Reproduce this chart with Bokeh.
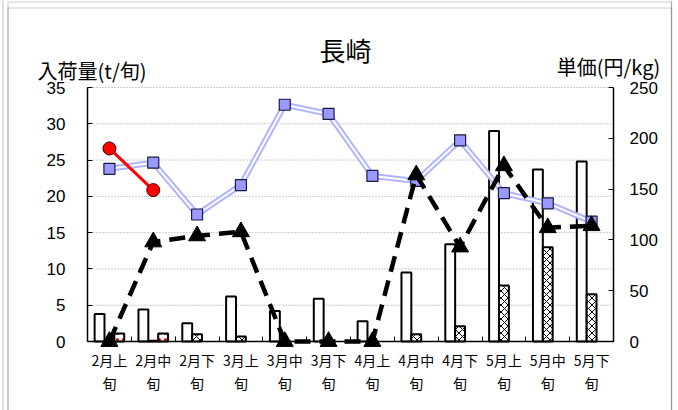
from bokeh.plotting import figure
from bokeh.models import (LinearAxis, Range1d, FixedTicker, BoxAnnotation, Label,
                          CustomJSTickFormatter)
from bokeh.embed import file_html
from bokeh.resources import INLINE

# Ten-day periods (上旬/中旬/下旬) from February to May
periods = ["2月上旬", "2月中旬", "2月下旬", "3月上旬", "3月中旬", "3月下旬",
           "4月上旬", "4月中旬", "4月下旬", "5月上旬", "5月中旬", "5月下旬"]

# Arrivals (t per period)
qty_white = [3.8, 4.4, 2.5, 6.2, 4.2, 5.9, 2.8, 9.5, 13.4, 29.0, 23.7, 24.8]
qty_hatch = [0.1, 0.1, 1.0, 0.7, 0.1, 0.1, 0.1, 1.0, 2.1, 7.7, 13.0, 6.5]
qty_red = [1.1, 1.1]

# Unit prices (yen/kg)
price_blue = [170, 176, 125, 154, 233, 224, 163, 158, 198, 146, 136, 118]
price_black = [0, 98, 104, 108, 0, 0, 0, 164, 93, 173, 112, 114]
price_red = [190, 149]

qty_ticks = [0, 5, 10, 15, 20, 25, 30, 35]
price_ticks = [0, 50, 100, 150, 200, 250]

# Canvas size and where the plotting area sits inside it (pixels)
W, H = 678, 410
AREA_L, AREA_R, AREA_T, AREA_B = 87, 613, 87, 341

n = len(periods)
centers = [i + 0.5 for i in range(n)]
bar_w = 0.225
tick_labels = [p[:-1] + "\n" + p[-1] for p in periods]


def span_range(lo, hi, px_lo, px_hi, px_total, flip=False):
    """Range covering the whole canvas so that lo..hi lands on px_lo..px_hi."""
    per_px = (hi - lo) / (px_hi - px_lo)
    if flip:
        return Range1d(lo - (px_total - px_hi) * per_px, hi + px_lo * per_px)
    return Range1d(lo - px_lo * per_px, hi + (px_total - px_hi) * per_px)


p = figure(width=W, height=H,
           x_range=span_range(0, n, AREA_L, AREA_R, W),
           y_range=span_range(0, qty_ticks[-1], AREA_T, AREA_B, H, flip=True),
           output_backend="svg", toolbar_location=None, title_location=None,
           min_border=0, min_border_left=0, min_border_right=0,
           min_border_top=0, min_border_bottom=0)
p.extra_y_ranges = {"price": span_range(0, price_ticks[-1], AREA_T, AREA_B, H, flip=True)}
p.outline_line_color = None
p.background_fill_color = "white"
p.border_fill_color = "white"
p.xgrid.visible = False
p.ygrid.visible = False

num_font = "Liberation Sans"
jp_font = "Noto Sans CJK JP"

# Category axis: labels at period centres, small marks at boundaries
xa = p.xaxis[0]
xa.fixed_location = 0
xa.bounds = (0, n)
xa.ticker = FixedTicker(ticks=centers, minor_ticks=list(range(n + 1)))
xa.formatter = CustomJSTickFormatter(args=dict(labels=tick_labels),
                                     code="return labels[Math.floor(tick)] || ''")
xa.major_tick_in = 0
xa.major_tick_out = 0
xa.minor_tick_in = 5
xa.minor_tick_out = 0
xa.minor_tick_line_color = "black"
xa.minor_tick_line_width = 1
xa.axis_line_color = "black"
xa.axis_line_width = 1.5
xa.major_label_text_font = jp_font
xa.major_label_text_font_size = "14px"
xa.major_label_text_color = "black"
xa.major_label_text_line_height = 1.15
xa.major_label_standoff = 8

ya = p.yaxis[0]
ya.fixed_location = 0
ya.bounds = (0, qty_ticks[-1])
ya.ticker = FixedTicker(ticks=qty_ticks)
ya.major_tick_in = 5
ya.major_tick_out = 0
ya.minor_tick_in = 0
ya.minor_tick_out = 0
ya.axis_line_color = "black"
ya.axis_line_width = 1.5
ya.major_tick_line_color = "black"
ya.major_label_text_font = num_font
ya.major_label_text_font_size = "17px"
ya.major_label_text_color = "black"
ya.major_label_standoff = 22

ra = LinearAxis(y_range_name="price", ticker=FixedTicker(ticks=price_ticks),
                fixed_location=n, bounds=(0, price_ticks[-1]))
ra.major_tick_in = 5
ra.major_tick_out = 0
ra.minor_tick_in = 0
ra.minor_tick_out = 0
ra.axis_line_color = "black"
ra.axis_line_width = 1.5
ra.major_label_text_font = num_font
ra.major_label_text_font_size = "17px"
ra.major_label_text_color = "black"
ra.major_label_standoff = 16
p.add_layout(ra, "right")

# Dotted horizontal guides at the arrival ticks
p.segment(x0=0, x1=n, y0=qty_ticks[1:], y1=qty_ticks[1:],
          line_color="#9a9a9a", line_dash="1 2", line_width=1)

# Arrival bars: three per period
p.vbar(x=[c - bar_w for c in centers], top=qty_white, width=bar_w, bottom=0,
       fill_color="white", line_color="black", line_width=2)
p.vbar(x=centers, top=qty_hatch, width=bar_w, bottom=0,
       fill_color="white", line_color="black", line_width=2,
       hatch_pattern="diagonal_cross", hatch_color="black", hatch_scale=7, hatch_weight=1)
p.vbar(x=[c + bar_w for c in centers[:len(qty_red)]], top=qty_red, width=bar_w, bottom=0,
       fill_color="white", line_color="black", line_width=2,
       hatch_pattern="dot", hatch_color="red", hatch_scale=6, hatch_weight=4)

# Price line with squares (light double stroke)
p.line(centers, price_blue, y_range_name="price", line_color="#b0b4ff", line_width=6)
p.line(centers, price_blue, y_range_name="price", line_color="white", line_width=2)
p.scatter(centers, price_blue, y_range_name="price", marker="square", size=11,
          fill_color="#9999ff", line_color="#1a1a40", line_width=1.2)

# Price line with triangles (dashed)
p.line(centers, price_black, y_range_name="price", line_color="black", line_width=4.5,
       line_dash="16 9")
p.scatter(centers, price_black, y_range_name="price", marker="triangle", size=17,
          fill_color="black", line_color="black")

# Price line with circles
p.line(centers[:len(price_red)], price_red, y_range_name="price", line_color="red", line_width=3)
p.scatter(centers[:len(price_red)], price_red, y_range_name="price", marker="circle", size=13,
          fill_color="red", line_color="#400000", line_width=1)

# Panel frame lines
for l, t in [(2.5, -10), (7.5, 1.5), (7.5, 7.5)]:
    p.add_layout(BoxAnnotation(left=l, right=671, top=t, bottom=H + 10,
                               left_units="canvas", right_units="canvas",
                               top_units="canvas", bottom_units="canvas",
                               fill_alpha=0, line_color="#606060", line_width=1.2,
                               level="overlay"))

p.add_layout(Label(x=345, y=49, x_units="canvas", y_units="canvas", text="長崎",
                   text_align="center", text_baseline="middle", text_font=jp_font,
                   text_font_size="26px", text_color="black"))
p.add_layout(Label(x=37, y=70, x_units="canvas", y_units="canvas", text="入荷量(t/旬)",
                   text_align="left", text_baseline="middle", text_font=jp_font,
                   text_font_size="20px", text_color="black"))
p.add_layout(Label(x=660, y=66, x_units="canvas", y_units="canvas", text="単価(円/kg)",
                   text_align="right", text_baseline="middle", text_font=jp_font,
                   text_font_size="20px", text_color="black"))

open("out.html", "w").write(file_html(p, INLINE))
